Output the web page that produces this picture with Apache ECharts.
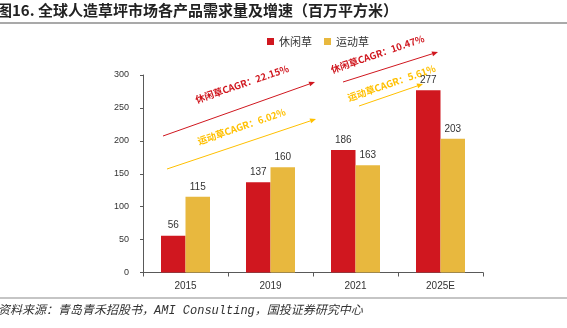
<!DOCTYPE html>
<html>
<head>
<meta charset="utf-8">
<script src="https://cdn.jsdelivr.net/npm/echarts@6/dist/echarts.min.js"></script>
<style>html,body{margin:0;padding:0;background:#fff;}#c{width:567px;height:328px;}</style>
</head>
<body>
<div id="c"></div>
<script>
const categories = ['2015', '2019', '2021', '2025E'];
const leisureGrass = [56, 137, 186, 277];
const sportsGrass = [115, 160, 163, 203];
const seriesNames = ['休闲草', '运动草'];
const yTickValues = [0, 50, 100, 150, 200, 250, 300];
const cagrTexts = ['休闲草CAGR：22.15%', '运动草CAGR：6.02%', '休闲草CAGR：10.47%', '运动草CAGR：5.61%'];
const titleText = '图16. 全球人造草坪市场各产品需求量及增速（百万平方米）';
const sourceText = '资料来源：青岛青禾招股书，AMI Consulting，国投证券研究中心';

const RED = '#D0171F', YEL = '#E8B83E', RED_T = '#D0171F', YEL_T = '#FFC000';
const CJK = '"Noto Sans CJK SC", "Liberation Sans", sans-serif';
const NUM = '"Liberation Sans", "DejaVu Sans", sans-serif';

function arrow(x1, y1, x2, y2, color) {
  const ang = Math.atan2(y2 - y1, x2 - x1);
  const L = 6, W = 2.5;
  const bx = x2 - L * Math.cos(ang), by = y2 - L * Math.sin(ang);
  const px = -Math.sin(ang) * W, py = Math.cos(ang) * W;
  return [
    { type: 'line', shape: { x1: x1, y1: y1, x2: bx, y2: by }, style: { stroke: color, lineWidth: 1 }, silent: true },
    { type: 'polygon', shape: { points: [[x2, y2], [bx + px, by + py], [bx - px, by - py]] }, style: { fill: color }, silent: true }
  ];
}
function rtext(x, y, t, color, rot) {
  return { type: 'text', x: x, y: y, rotation: rot, silent: true,
    style: { text: t, fill: color, font: 'bold 9.5px ' + CJK, align: 'center', verticalAlign: 'middle' } };
}
const rot = 19 * Math.PI / 180;

const graphics = [].concat(
  [{ type: 'line', shape: { x1: 0, y1: 23, x2: 567, y2: 23 }, style: { stroke: '#8c8c8c', lineWidth: 1.5 }, silent: true },
   { type: 'line', shape: { x1: 0, y1: 298, x2: 567, y2: 298 }, style: { stroke: '#8c8c8c', lineWidth: 1.2 }, silent: true },
   { type: 'text', x: -2, y: 311, silent: true, style: { text: sourceText, fill: '#333', font: 'italic 12px "Liberation Mono", "Noto Sans CJK SC", monospace', verticalAlign: 'middle' } },
   { type: 'text', x: -3, y: 10.5, silent: true, style: { text: titleText, fill: '#222', font: 'bold 15px ' + CJK, verticalAlign: 'middle' } }],
  arrow(163, 136, 315, 82, RED),
  arrow(167, 169, 316, 119, YEL_T),
  arrow(343, 82, 438, 52, RED),
  arrow(359, 106, 423, 84, YEL_T),
  [rtext(242, 84, cagrTexts[0], RED_T, rot),
   rtext(241.5, 126.5, cagrTexts[1], YEL_T, rot),
   rtext(377.5, 54, cagrTexts[2], RED_T, rot),
   rtext(391.5, 83, cagrTexts[3], YEL_T, rot)]
);

const chart = echarts.init(document.getElementById('c'));
chart.setOption({
  animation: false,
  backgroundColor: '#fff',
  grid: { left: 143, right: 84, top: 75, bottom: 55.5, containLabel: false },
  legend: {
    data: seriesNames, left: 262, top: 31, icon: 'rect', itemWidth: 7, itemHeight: 7, itemGap: 12,
    textStyle: { fontSize: 11, color: '#333', fontFamily: CJK }
  },
  xAxis: {
    type: 'category', data: categories,
    axisLine: { lineStyle: { color: '#595959', width: 1 } },
    axisTick: { show: true, length: 4, lineStyle: { color: '#595959' } },
    axisLabel: { fontSize: 10, color: '#333', fontFamily: NUM, margin: 9 }
  },
  yAxis: {
    type: 'value', min: yTickValues[0], max: yTickValues[yTickValues.length - 1], interval: 50,
    axisLine: { show: true, lineStyle: { color: '#595959', width: 1 } },
    axisTick: { show: true, length: 3, lineStyle: { color: '#595959' } },
    splitLine: { show: false },
    axisLabel: { fontSize: 9, color: '#333', fontFamily: NUM, margin: 14 }
  },
  series: [
    { name: seriesNames[0], type: 'bar', data: leisureGrass, barWidth: 24.5, barGap: '0%',
      itemStyle: { color: RED },
      label: { show: true, position: 'top', distance: 5, fontSize: 10, color: '#333', fontFamily: NUM } },
    { name: seriesNames[1], type: 'bar', data: sportsGrass, barWidth: 24.5, barGap: '0%',
      itemStyle: { color: YEL },
      label: { show: true, position: 'top', distance: 5, fontSize: 10, color: '#333', fontFamily: NUM } }
  ],
  graphic: graphics
});
</script>
</body>
</html>
